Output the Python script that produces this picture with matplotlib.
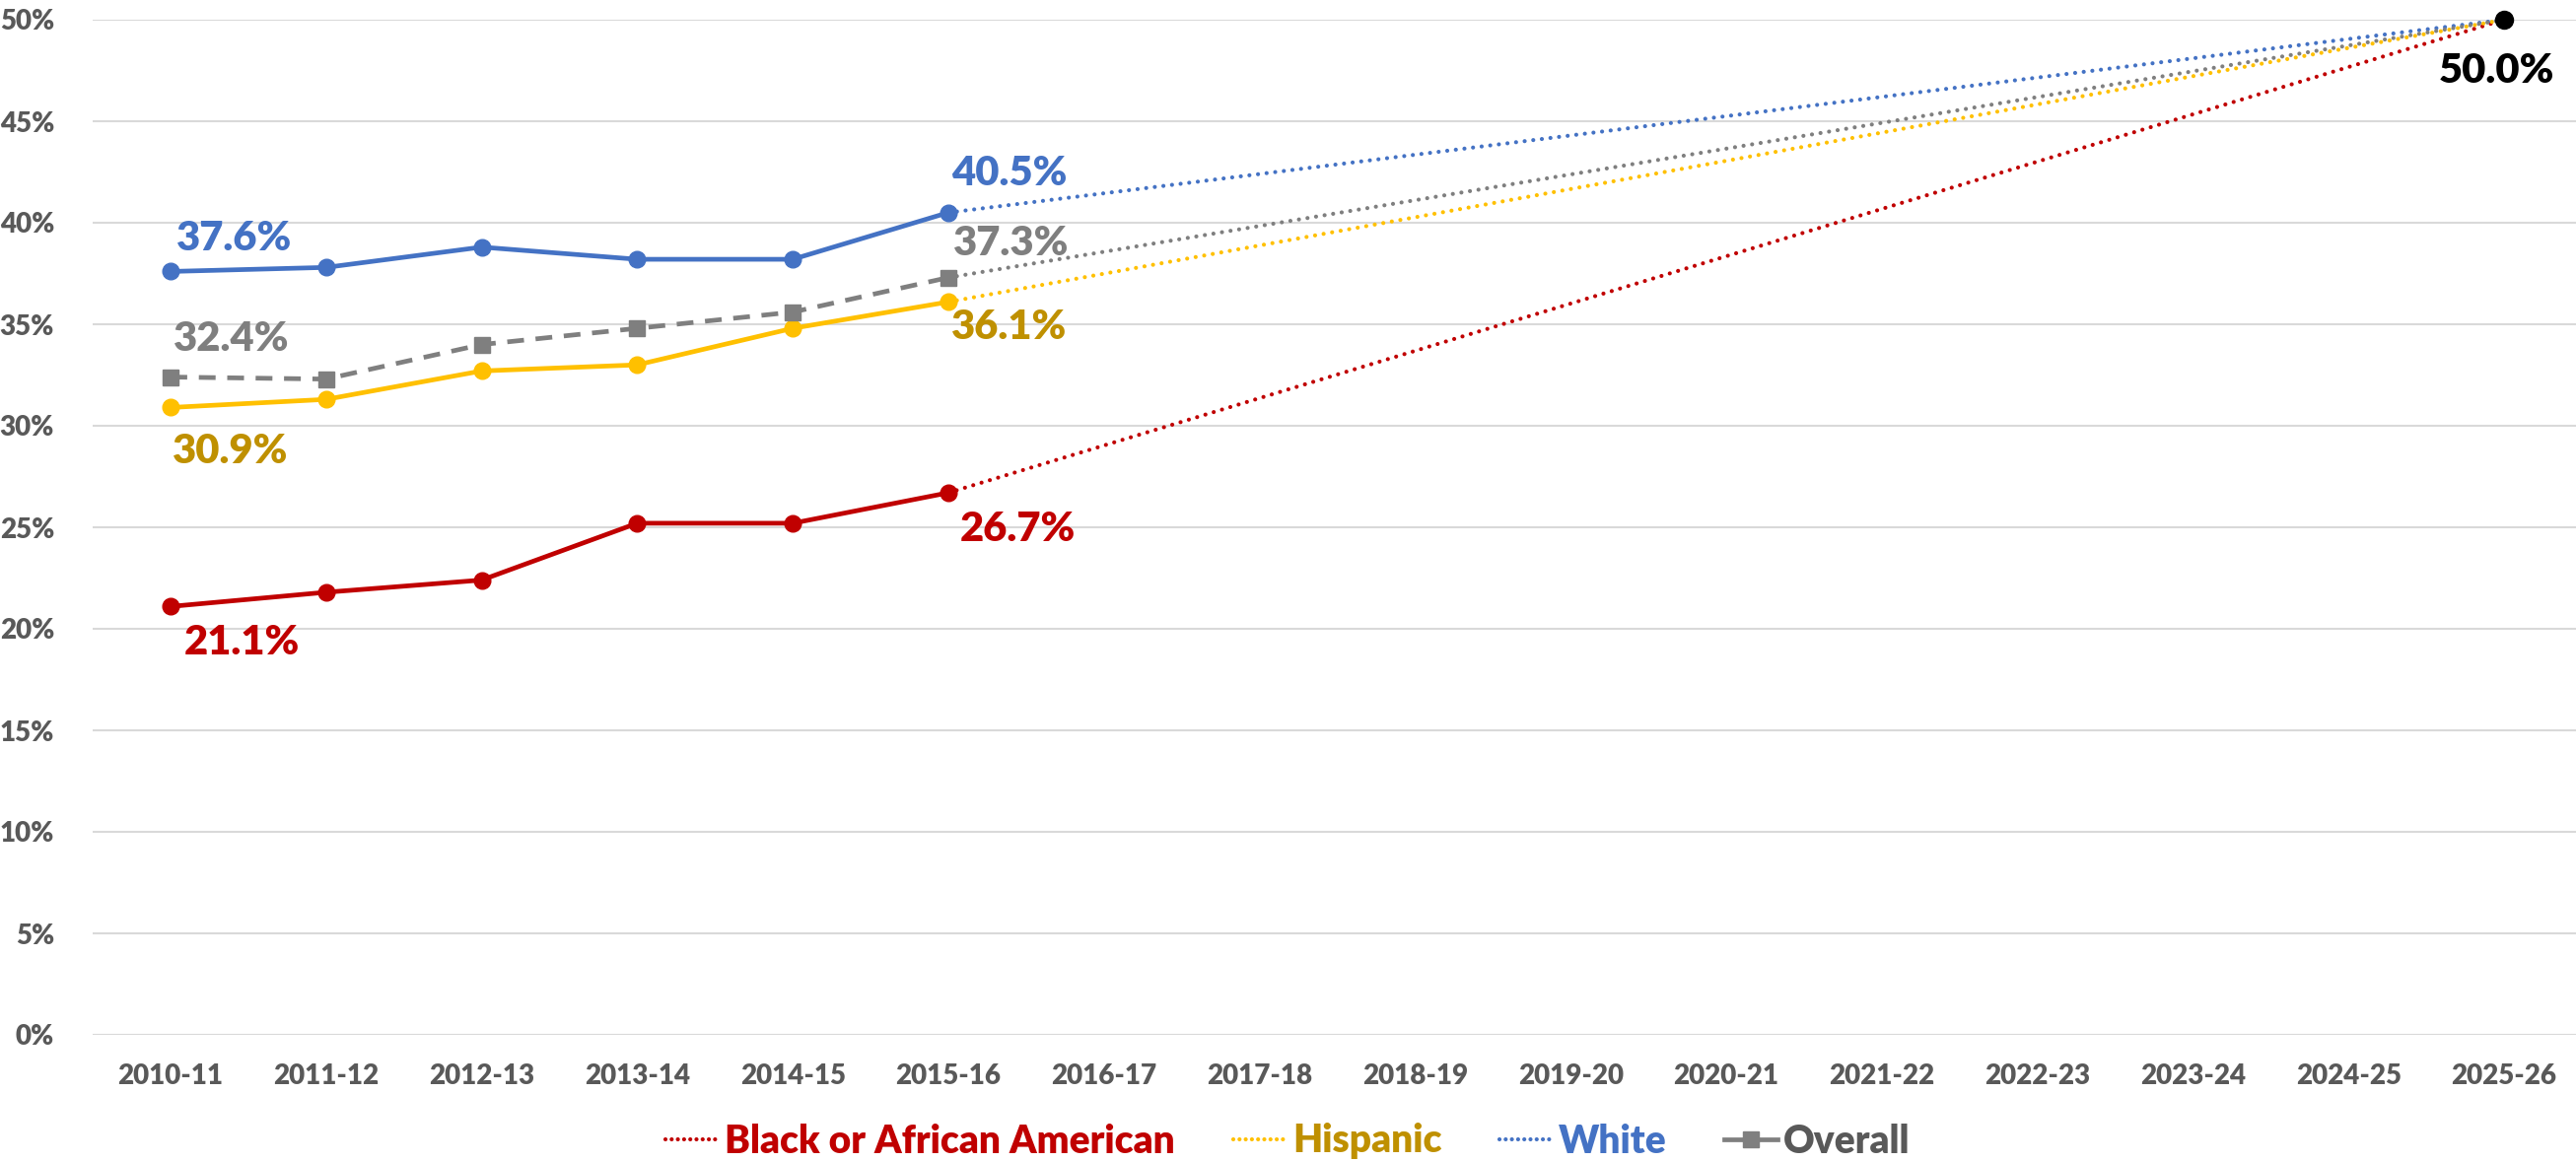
import matplotlib
matplotlib.use("Agg")
import matplotlib.pyplot as plt
from matplotlib.lines import Line2D
from matplotlib import font_manager

# ---------------- data ----------------
years = ["2010-11", "2011-12", "2012-13", "2013-14", "2014-15", "2015-16",
         "2016-17", "2017-18", "2018-19", "2019-20", "2020-21", "2021-22",
         "2022-23", "2023-24", "2024-25", "2025-26"]
black = [21.1, 21.8, 22.4, 25.2, 25.2, 26.7]
hispanic = [30.9, 31.3, 32.7, 33.0, 34.8, 36.1]
white = [37.6, 37.8, 38.8, 38.2, 38.2, 40.5]
overall = [32.4, 32.3, 34.0, 34.8, 35.6, 37.3]
goal_value = 50.0
goal_year = "2025-26"
y_ticks = [0, 5, 10, 15, 20, 25, 30, 35, 40, 45, 50]

# ---------------- style ----------------
names = {f.name for f in font_manager.fontManager.ttflist}
fam = [f for f in ["Liberation Sans Narrow", "Lato", "DejaVu Sans"] if f in names]
plt.rcParams['font.family'] = fam
WEIGHT = 'heavy'

C_BLACK = "#C00000"
C_HISP = "#FFC000"
C_HISP_TXT = "#BF9000"
C_WHITE = "#4472C4"
C_OVR = "#7F7F7F"
C_OVR_TXT = "#595959"
C_TICK = "#595959"
C_GRID = "#D9D9D9"

W, H = 2613, 1179
fig = plt.figure(figsize=(W / 100, H / 100), dpi=100)
left_px, right_px = 94, 2619
top_px, bot_px = 20, 1050
ax = fig.add_axes([left_px / W, (H - bot_px) / H, (right_px - left_px) / W, (bot_px - top_px) / H])

x = list(range(len(years)))
xi_goal = years.index(goal_year)
n = len(white)

for s in ax.spines.values():
    s.set_visible(False)
ax.set_xlim(-0.5, len(years) - 0.5)
ax.set_ylim(0, 50)
ax.set_yticks(y_ticks)
ax.set_yticklabels([f"{t}%" for t in y_ticks])
ax.set_xticks(x)
ax.set_xticklabels(years)
ax.tick_params(axis='both', length=0, colors=C_TICK, labelsize=20)
ax.tick_params(axis='y', pad=28)
ax.tick_params(axis='x', pad=21)
for t in ax.get_xticklabels() + ax.get_yticklabels():
    t.set_fontweight(WEIGHT)
ax.grid(axis='y', color=C_GRID, lw=1.5)
ax.set_axisbelow(True)

lw_solid = 3.4
lw_dot = 3.0
dot_style = (0, (0.01, 2.1))

series = [
    (black, C_BLACK, 'o', 12),
    (hispanic, C_HISP, 'o', 12),
    (white, C_WHITE, 'o', 12),
]
# projection dotted lines
for vals, col, mk, ms in series + [(overall, C_OVR, 's', 11)]:
    ax.plot([x[n - 1], x[xi_goal]], [vals[-1], goal_value], color=col, lw=lw_dot,
            linestyle=dot_style, dash_capstyle='round', clip_on=False, zorder=2)

for vals, col, mk, ms in series:
    ax.plot(x[:n], vals, color=col, lw=lw_solid, marker=mk, markersize=ms,
            clip_on=False, zorder=3)
ax.plot(x[:n], overall, color=C_OVR, lw=lw_solid, linestyle=(0, (3.6, 2.5)),
        marker='s', markersize=11, clip_on=False, zorder=3)

ax.plot([x[xi_goal]], [goal_value], marker='o', color='black', markersize=13,
        clip_on=False, zorder=5)

# ---------------- data labels ----------------
def lab(xv, yv, txt, col, dx, dy, ha='left'):
    ax.annotate(txt, (xv, yv), xytext=(dx * 0.72, dy * 0.72), textcoords='offset points',
                ha=ha, va='center', color=col, fontsize=30, fontweight=WEIGHT,
                annotation_clip=False, zorder=6)

lab(x[0], white[0], f"{white[0]:.1f}%", C_WHITE, 6, 33)
lab(x[0], overall[0], f"{overall[0]:.1f}%", C_OVR, 3, 39)
lab(x[0], hispanic[0], f"{hispanic[0]:.1f}%", C_HISP_TXT, 2, -45)
lab(x[0], black[0], f"{black[0]:.1f}%", C_BLACK, 14, -37)
lab(x[n - 1], white[-1], f"{white[-1]:.1f}%", C_WHITE, 3, 40)
lab(x[n - 1], overall[-1], f"{overall[-1]:.1f}%", C_OVR, 5, 35)
lab(x[n - 1], hispanic[-1], f"{hispanic[-1]:.1f}%", C_HISP_TXT, 3, -26)
lab(x[n - 1], black[-1], f"{black[-1]:.1f}%", C_BLACK, 12, -37)
lab(x[xi_goal], goal_value, f"{goal_value:.1f}%", 'black', -8, -52, ha='center')

# ---------------- legend ----------------
handles = [
    Line2D([], [], color=C_BLACK, lw=lw_dot, linestyle=(0, (0.01, 1.5)), dash_capstyle='round'),
    Line2D([], [], color=C_HISP, lw=lw_dot, linestyle=(0, (0.01, 1.5)), dash_capstyle='round'),
    Line2D([], [], color=C_WHITE, lw=lw_dot, linestyle=(0, (0.01, 1.5)), dash_capstyle='round'),
    Line2D([], [], color=C_OVR, lw=lw_solid, marker='s', markersize=11),
]
labels = ["Black or African American", "Hispanic", "White", "Overall"]
leg = fig.legend(handles, labels, loc='center', bbox_to_anchor=(0.5, 21 / H), ncol=4,
                 frameon=False, fontsize=28, handlelength=1.4, handletextpad=0.15,
                 columnspacing=1.5, borderaxespad=0)
for t, c in zip(leg.get_texts(), [C_BLACK, C_HISP_TXT, C_WHITE, C_OVR_TXT]):
    t.set_color(c)
    t.set_fontweight(WEIGHT)

fig.savefig("out.png", dpi=100)
